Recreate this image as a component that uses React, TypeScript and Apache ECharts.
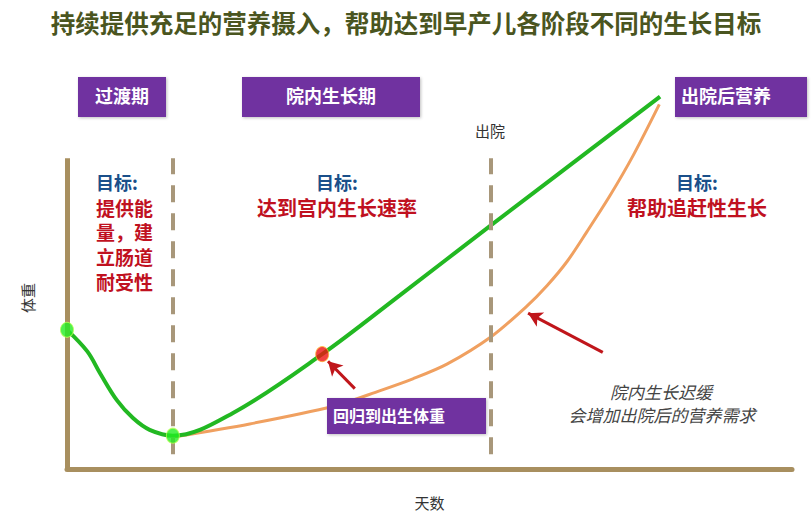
import React, { useEffect, useRef } from "react";
import * as echarts from "echarts";

// Weight curve (green): continuous adequate nutrition
const greenX = [0, 2.8, 4.6, 6.9, 9.1, 11.4, 14.6, 22.9, 35.2, 45.9, 58.5, 81.8];
const greenY = [35.5, 30, 24.3, 17.5, 13, 10, 8.5, 14.3, 29.3, 44.3, 62.2, 95];
// Weight curve (orange): in-hospital growth delay then catch-up
const orangeX = [14.9, 25.2, 36.7, 43.2, 47.7, 52.4, 58.5, 63.4, 66.2, 69.0, 71.7, 74.9, 78.1, 81.7];
const orangeY = [8.25, 11.5, 16, 20, 23, 26.75, 33.75, 41.5, 46.75, 53, 60.5, 69.75, 80, 93];
// Key points
const dotX = [0, 14.6, 35.2];
const dotY = [35.5, 8.5, 29.3];
const dotFill = ["#22ee22", "#22ee22", "#ee1111"];
const dotBorder = ["#b8ff55", "#b8ff55", "#ffb030"];
// Phase boundaries (days) and axis extents
const phaseX = [14.6, 58.5];
const dashBottom = 3.75;
const axisTop = 79.25;
// Annotation arrows
const arrowFromX = [39.7, 73.9];
const arrowFromY = [20.5, 29.75];
const arrowToX = [36, 63.6];
const arrowToY = [27.5, 39.75];

const xName = "天数";
const yName = "体重";

export default function App() {
  const ref = useRef<HTMLDivElement>(null);
  useEffect(() => {
    if (!ref.current) return;
    const chart = echarts.init(ref.current, undefined, { renderer: "svg" });
    const FONT = "'Noto Sans CJK SC', 'Noto Sans', sans-serif";
    const purple = "#7030a0";
    const red = "#c0111f";
    const blue = "#1a4f8a";
    const axisColor = "#a88f5f";

    const green = greenX.map((x, i) => [x, greenY[i]]);
    const orange = orangeX.map((x, i) => [x, orangeY[i]]);
    const dots = dotX.map((x, i) => ({
      value: [x, dotY[i]],
      itemStyle: { color: dotFill[i], borderColor: dotBorder[i], borderWidth: 1 },
    }));

    const markLines: any[] = [];
    markLines.push([
      { coord: [0, 0], lineStyle: { color: axisColor, width: 5, type: "solid" } },
      { coord: [0, axisTop] },
    ]);
    phaseX.forEach((x) => {
      markLines.push([
        { coord: [x, dashBottom], lineStyle: { color: "#a8977a", width: 4, type: [17, 11] } },
        { coord: [x, axisTop] },
      ]);
    });
    arrowFromX.forEach((x, i) => {
      markLines.push([
        { coord: [x, arrowFromY[i]], lineStyle: { color: "#c0161b", width: 3, type: "solid" } },
        { coord: [arrowToX[i], arrowToY[i]], symbol: "arrow", symbolSize: [12, 14] },
      ]);
    });

    const txt = (
      x: number,
      y: number,
      text: string,
      size: number,
      color: string,
      align: string = "center",
      extra: any = {}
    ) => ({
      type: "text",
      x,
      y,
      style: {
        text,
        fill: color,
        font: `${extra.italic ? "italic " : ""}${extra.bold === false ? "normal" : "bold"} ${size}px ${FONT}`,
        textAlign: align,
        textVerticalAlign: "middle",
      },
      rotation: extra.rotation || 0,
      z: 100,
    });
    const box = (x: number, y: number, w: number, h: number) => ({
      type: "rect",
      shape: { x, y, width: w, height: h },
      style: { fill: purple, shadowBlur: 3, shadowColor: "rgba(0,0,0,0.25)", shadowOffsetX: 1, shadowOffsetY: 1 },
      z: 90,
    });

    const graphics: any[] = [
      txt(406, 22, "持续提供充足的营养摄入，帮助达到早产儿各阶段不同的生长目标", 24.5, "#4a5520"),
      box(78, 77, 88, 40),
      txt(122, 95, "过渡期", 18, "#ffffff"),
      box(242, 77, 178, 40),
      txt(331, 95, "院内生长期", 18, "#ffffff"),
      box(675, 77, 132, 40),
      txt(726, 95, "出院后营养", 18, "#ffffff"),
      txt(490, 130, "出院", 15, "#333333", "center", { bold: false }),
      txt(96, 182, "目标:", 18, blue, "left"),
      txt(96, 207, "提供能", 19, red, "left"),
      txt(96, 231.7, "量，建", 19, red, "left"),
      txt(96, 256.4, "立肠道", 19, red, "left"),
      txt(96, 281, "耐受性", 19, red, "left"),
      txt(337, 182, "目标:", 18, blue),
      txt(337, 207, "达到宫内生长速率", 20, red),
      txt(697, 182, "目标:", 18, blue),
      txt(697, 207, "帮助追赶性生长", 20, red),
      box(327, 398, 159, 36),
      txt(333, 415, "回归到出生体重", 16, "#ffffff", "left"),
      txt(661, 391, "院内生长迟缓", 17, "#444444", "center", { italic: true, bold: false }),
      txt(662, 414, "会增加出院后的营养需求", 17, "#444444", "center", { italic: true, bold: false }),
      txt(27, 298, yName, 15, "#333333", "center", { rotation: Math.PI / 2, bold: false }),
    ];

    chart.setOption({
      animation: false,
      backgroundColor: "#ffffff",
      grid: { left: 67, right: 19, top: 77, bottom: 38 },
      xAxis: {
        type: "value",
        min: 0,
        max: 100,
        name: xName,
        nameLocation: "middle",
        nameGap: 26,
        nameTextStyle: { fontFamily: FONT, fontSize: 15, color: "#333333" },
        axisLine: { show: true, lineStyle: { color: axisColor, width: 5 } },
        axisTick: { show: false },
        axisLabel: { show: false },
        splitLine: { show: false },
      },
      yAxis: {
        type: "value",
        min: 0,
        max: 100,
        axisLine: { show: false },
        axisTick: { show: false },
        axisLabel: { show: false },
        splitLine: { show: false },
      },
      series: [
        {
          type: "line",
          data: orange,
          smooth: 0.3,
          symbol: "none",
          lineStyle: { color: "#f0a060", width: 3 },
          z: 3,
          silent: true,
          markLine: {
            silent: true,
            animation: false,
            symbol: ["none", "none"],
            label: { show: false },
            emphasis: { disabled: true },
            data: markLines,
          },
        },
        {
          type: "line",
          data: green,
          smooth: 0.35,
          symbol: "none",
          lineStyle: { color: "#22b822", width: 4 },
          z: 4,
          silent: true,
        },
        {
          type: "scatter",
          data: dots,
          symbol: "circle",
          symbolSize: [13, 15],
          z: 6,
          silent: true,
        },
      ],
      graphic: graphics,
    });
    return () => chart.dispose();
  }, []);
  return (
    <div
      ref={ref}
      style={{ position: "fixed", left: 0, top: 0, width: 811, height: 515, background: "#fff" }}
    />
  );
}
